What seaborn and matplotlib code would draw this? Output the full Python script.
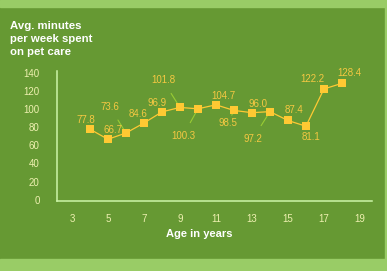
import matplotlib
matplotlib.use("Agg")
import matplotlib.pyplot as plt
import seaborn as sns
import pandas as pd
from matplotlib.patches import Rectangle

ages = [4, 5, 6, 7, 8, 9, 10, 11, 12, 13, 14, 15, 16, 17, 18]
minutes = [77.8, 66.7, 73.6, 84.6, 96.9, 101.8, 100.3, 104.7, 98.5, 96.0, 97.2, 87.4, 81.1, 122.2, 128.4]
x_ticks = [3, 5, 7, 9, 11, 13, 15, 17, 19]
y_ticks = [0, 20, 40, 60, 80, 100, 120, 140]
title = "Avg. minutes\nper week spent\non pet care"
xlabel = "Age in years"

# label offsets in pixels (dx, dy) and whether a leader line is drawn
offsets = [(-4, 9), (5, 9), (-16, 26), (-6, 9), (-5, 9), (-17, 27), (-15, -27),
           (7, 9), (-6, -13), (6, 9), (-17, -27), (6, 10), (5, -11), (-12, 10), (7, 10)]
leaders = [False, False, True, False, False, True, True,
           False, True, False, True, False, False, False, False]

GREEN = "#669933"
LIGHT = "#99cc66"
YEL = "#ffc933"
TXT = "#f5c842"
LEAD = "#99cc33"
AXC = "#ccf5a8"
TICKC = "#eef0b0"

sns.set_style("white")
plt.rcParams["font.family"] = ["Liberation Sans", "DejaVu Sans"]

fig = plt.figure(figsize=(3.87, 2.71), dpi=100)
fig.patch.set_facecolor(GREEN)
W, H = 387, 271
fig.patches.append(Rectangle((0, 1 - 7 / H), 1, 7 / H, transform=fig.transFigure, color=LIGHT, zorder=0))
fig.patches.append(Rectangle((0, 0), 1, 12 / H, transform=fig.transFigure, color=LIGHT, zorder=0))
fig.patches.append(Rectangle((385 / W, 0), 2 / W, 1, transform=fig.transFigure, color=LIGHT, zorder=0))

ax = fig.add_axes([57 / W, (H - 201) / H, 315 / W, 130 / H])
ax.set_facecolor("none")

df = pd.DataFrame({"age": ages, "minutes": minutes})
sns.lineplot(data=df, x="age", y="minutes", ax=ax, color=YEL, linewidth=0.9,
             marker="s", markersize=5.2, markeredgewidth=0, zorder=3)

ax.set_xlim(2.17, 19.67)
ax.set_ylim(-1.4, 142)

for (a, m, (dx, dy), ld) in zip(ages, minutes, offsets, leaders):
    if ld:
        ax.annotate(f"{m:.1f}", xy=(a, m), xytext=(dx, dy), textcoords="offset pixels",
                    ha="center", va="center", fontsize=7, color=TXT,
                    arrowprops=dict(arrowstyle="-", color=LEAD, lw=0.8, shrinkA=4, shrinkB=2),
                    zorder=2)
    else:
        ax.annotate(f"{m:.1f}", xy=(a, m), xytext=(dx, dy), textcoords="offset pixels",
                    ha="center", va="center", fontsize=7, color=TXT, zorder=4)

for s in ["top", "right"]:
    ax.spines[s].set_visible(False)
for s in ["left", "bottom"]:
    ax.spines[s].set_color(AXC)
    ax.spines[s].set_linewidth(1.1)

ax.set_xticks(x_ticks)
ax.set_xticklabels([str(t) for t in x_ticks])
ax.set_yticks(y_ticks)
ax.set_yticklabels([str(t) for t in y_ticks])
ax.tick_params(axis="x", length=0, pad=9, labelsize=7, labelcolor=TICKC)
ax.tick_params(axis="y", length=6.5, width=1.1, color=AXC, pad=6, labelsize=7, labelcolor=TICKC)
ax.yaxis.get_major_ticks()[0].tick1line.set_visible(False)

ax.set_xlabel("")
ax.set_ylabel("")
fig.text(199 / W, 1 - 234 / H, xlabel, ha="center", va="center", fontsize=8,
         fontweight="bold", color="white")
fig.text(10 / W, 1 - 21 / H, title, ha="left", va="top", fontsize=8.2,
         fontweight="bold", color="white", linespacing=1.4)

fig.savefig("out.png", dpi=100, facecolor=fig.get_facecolor())
